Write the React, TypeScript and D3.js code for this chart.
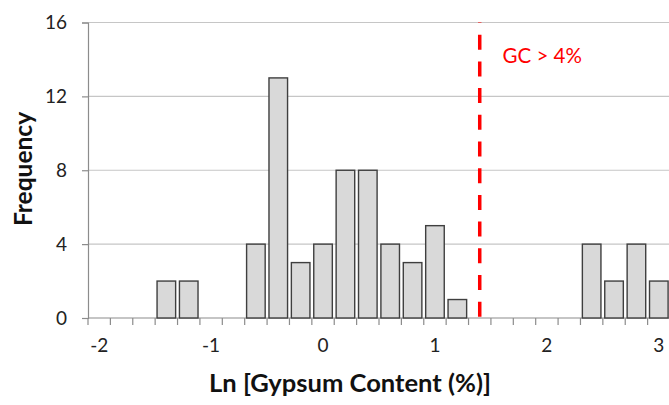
import React, { useEffect, useRef } from "react";
import * as d3 from "d3";

// histogram bins (centre of each 0.2-wide bin, ln units) and counts
const binCenters = [
  -2.0, -1.8, -1.6, -1.4, -1.2, -1.0, -0.8, -0.6, -0.4, -0.2, 0.0, 0.2, 0.4,
  0.6, 0.8, 1.0, 1.2, 1.4, 1.6, 1.8, 2.0, 2.2, 2.4, 2.6, 2.8, 3.0,
];
const counts = [
  0, 0, 0, 2, 2, 0, 0, 4, 13, 3, 4, 8, 8, 4, 3, 5, 1, 0, 0, 0, 0, 0, 4, 2, 4, 2,
];
const binWidth = 0.2;
const xTickLabels = [-2, -1, 0, 1, 2, 3];
const yTickLabels = [0, 4, 8, 12, 16];
const thresholdValue = 1.4; // ln(4%)
const thresholdLabel = "GC > 4%";

const W = 669;
const H = 405;

const App = () => {
  const ref = useRef<SVGSVGElement | null>(null);

  useEffect(() => {
    const svg = d3.select(ref.current);
    svg.selectAll("*").remove();

    const left = 88;
    const right = 670;
    const top = 22.5;
    const bottom = 318;

    const x = d3.scaleLinear().domain([-2.1, 3.1]).range([left, right]);
    const y = d3.scaleLinear().domain([0, 16]).range([bottom, top]);
    const font = "Lato, 'Open Sans', sans-serif";

    // gridlines
    svg
      .append("g")
      .selectAll("line")
      .data(yTickLabels.filter((d) => d > 0))
      .enter()
      .append("line")
      .attr("x1", left)
      .attr("x2", W)
      .attr("y1", (d) => y(d))
      .attr("y2", (d) => y(d))
      .attr("stroke", "#c6c6c6")
      .attr("stroke-width", 1.2);

    // y axis
    const yAxis = svg
      .append("g")
      .attr("transform", `translate(${left},0)`)
      .call(d3.axisLeft(y).tickValues(yTickLabels).tickSize(6).tickPadding(15));
    yAxis.select(".domain").attr("stroke", "#8c8c8c").attr("stroke-width", 1.2);
    yAxis.selectAll(".tick line").attr("stroke", "#8c8c8c").attr("stroke-width", 1.2);
    yAxis
      .selectAll(".tick text")
      .attr("font-family", font)
      .attr("font-size", 19)
      .attr("fill", "#222");

    // x axis: tick marks at bin edges
    const edges = d3.range(binCenters.length + 1).map((i) => -2.1 + i * binWidth);
    const xAxisG = svg.append("g");
    xAxisG
      .append("line")
      .attr("x1", left)
      .attr("x2", W)
      .attr("y1", bottom)
      .attr("y2", bottom)
      .attr("stroke", "#8c8c8c")
      .attr("stroke-width", 1.2);
    xAxisG
      .selectAll("line.tk")
      .data(edges)
      .enter()
      .append("line")
      .attr("class", "tk")
      .attr("x1", (d) => x(d))
      .attr("x2", (d) => x(d))
      .attr("y1", bottom)
      .attr("y2", bottom + 7)
      .attr("stroke", "#8c8c8c")
      .attr("stroke-width", 1.2);
    xAxisG
      .selectAll("text")
      .data(xTickLabels)
      .enter()
      .append("text")
      .attr("x", (d) => x(d))
      .attr("y", 351.5)
      .attr("text-anchor", "middle")
      .attr("font-family", font)
      .attr("font-size", 19)
      .attr("fill", "#222")
      .text((d) => String(d));

    // bars
    const bw = (x(binWidth) - x(0)) * 0.83;
    svg
      .append("g")
      .selectAll("rect")
      .data(binCenters.map((c, i) => ({ c, n: counts[i] })).filter((d) => d.n > 0))
      .enter()
      .append("rect")
      .attr("x", (d) => x(d.c) - bw / 2)
      .attr("y", (d) => y(d.n))
      .attr("width", bw)
      .attr("height", (d) => bottom - y(d.n))
      .attr("fill", "#d9d9d9")
      .attr("stroke", "#3f3f3f")
      .attr("stroke-width", 1.4);

    // threshold line
    svg
      .append("line")
      .attr("x1", x(thresholdValue))
      .attr("x2", x(thresholdValue))
      .attr("y1", bottom)
      .attr("y2", top)
      .attr("stroke", "#ff0000")
      .attr("stroke-width", 3.5)
      .attr("stroke-dasharray", "15 11.7")
      .attr("stroke-dashoffset", 25.4);

    svg
      .append("text")
      .attr("x", 502.5)
      .attr("y", 63.3)
      .attr("font-family", font)
      .attr("font-size", 20.5)
      .attr("fill", "#ff0000")
      .text(thresholdLabel);

    // axis titles
    svg
      .append("text")
      .attr("transform", `translate(31.5,169) rotate(-90)`)
      .attr("text-anchor", "middle")
      .attr("font-family", font)
      .attr("font-weight", "bold")
      .attr("font-size", 24.5)
      .attr("fill", "#111")
      .text("Frequency");

    svg
      .append("text")
      .attr("x", 350)
      .attr("y", 392)
      .attr("text-anchor", "middle")
      .attr("font-family", font)
      .attr("font-weight", "bold")
      .attr("font-size", 25)
      .attr("textLength", 282)
      .attr("lengthAdjust", "spacingAndGlyphs")
      .attr("fill", "#111")
      .text("Ln [Gypsum Content (%)]");
  }, []);

  return (
    <svg
      ref={ref}
      width={W}
      height={H}
      style={{ position: "absolute", left: 0, top: 0, background: "#fff" }}
    />
  );
};

export default App;
